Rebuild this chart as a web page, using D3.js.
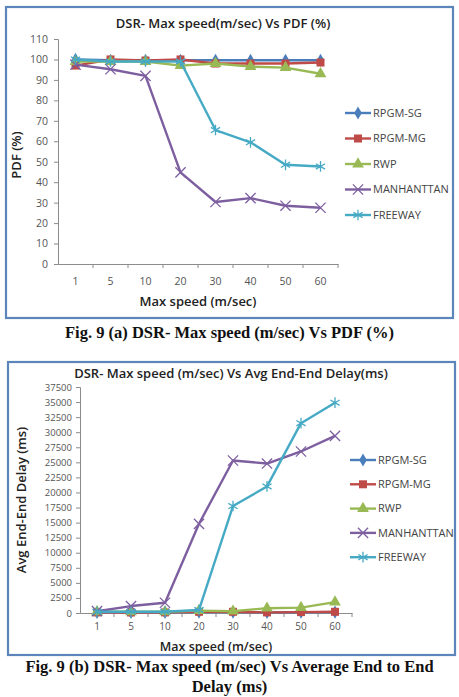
<!DOCTYPE html>
<html>
<head>
<meta charset="utf-8">
<script src="https://cdn.jsdelivr.net/npm/d3@7"></script>
<style>
  body { margin: 0; background: #fff; }
  svg { display: block; }
</style>
</head>
<body>
<div></div>
<script>
'use strict';

// categories
var speeds = ["1", "5", "10", "20", "30", "40", "50", "60"];
var seriesNames = ["RPGM-SG", "RPGM-MG", "RWP", "MANHANTTAN", "FREEWAY"];

// PDF (%) values
var pdfRpgmSg = [100, 99.6, 99.6, 99.6, 99.6, 99.6, 99.6, 99.6];
var pdfRpgmMg = [97, 100, 99.5, 100, 98, 98, 98, 98.5];
var pdfRwp = [99, 99, 99, 97, 98, 96.5, 96, 93];
var pdfManhattan = [97.5, 95.2, 92, 44.8, 30.3, 32.2, 28.5, 27.5];
var pdfFreeway = [100, 99, 99, 99, 65.5, 59.5, 48.5, 47.7];

// Avg end-end delay (ms) values
var delayRpgmSg = [100, 100, 100, 150, 150, 100, 120, 150];
var delayRpgmMg = [100, 80, 100, 200, 200, 100, 150, 200];
var delayRwp = [200, 200, 200, 400, 300, 800, 900, 1800];
var delayManhattan = [300, 1150, 1700, 14800, 25300, 24800, 26800, 29400];
var delayFreeway = [200, 200, 200, 500, 17750, 21000, 31500, 34900];

// tick labels
var pdfTicks = [0, 10, 20, 30, 40, 50, 60, 70, 80, 90, 100, 110];
var delayTicks = [0, 2500, 5000, 7500, 10000, 12500, 15000, 17500, 20000,
  22500, 25000, 27500, 30000, 32500, 35000, 37500];

var colors = ["#4a7ebb", "#be4b48", "#98b954", "#7d5fa0", "#46aac5"];
var symbols = [d3.symbolDiamond, d3.symbolSquare, d3.symbolTriangle, d3.symbolTimes, d3.symbolAsterisk];
var symbolSizes = [50, 64, 60, 70, 80];
var strokeSymbol = [false, false, false, true, true];

var svg = d3.select("body").select("div")
  .append("svg")
    .attr("width", 459)
    .attr("height", 697);

var chartFont = "'Open Sans', 'DejaVu Sans', sans-serif";
var captionFont = "'Liberation Serif', 'Times New Roman', serif";

function drawChart(cfg) {
  // frame
  svg.append("rect")
    .attr("x", cfg.box[0]).attr("y", cfg.box[1])
    .attr("width", cfg.box[2]).attr("height", cfg.box[3])
    .attr("fill", "#fff")
    .attr("stroke", "#5b85bb")
    .attr("stroke-width", 2.2);

  svg.append("text")
    .attr("x", cfg.titleX).attr("y", cfg.titleY)
    .attr("text-anchor", "middle")
    .attr("font-family", chartFont)
    .attr("font-size", 13)
    .attr("font-weight", 600)
    .attr("fill", "#222")
    .text(cfg.title);

  var xScale = d3.scaleBand()
    .domain(speeds)
    .range([cfg.left, cfg.right]);

  var yScale = d3.scaleLinear()
    .domain([cfg.ticks[0], cfg.ticks[cfg.ticks.length - 1]])
    .range([cfg.bottom, cfg.top]);

  // y axis
  var yAxis = svg.append("g")
    .attr("transform", "translate(" + cfg.left + ",0)")
    .call(d3.axisLeft(yScale).tickValues(cfg.ticks).tickFormat(d3.format("d"))
      .tickSize(4).tickPadding(cfg.yPad));
  yAxis.select(".domain").attr("stroke", "#8c8c8c");
  yAxis.selectAll(".tick line").attr("stroke", "#8c8c8c");
  yAxis.selectAll("text")
    .attr("font-family", chartFont)
    .attr("font-size", cfg.yFont)
    .attr("fill", "#555");

  // x axis
  var xAxis = svg.append("g")
    .attr("transform", "translate(0," + cfg.bottom + ")")
    .call(d3.axisBottom(xScale).tickSize(0).tickPadding(cfg.xPad).tickSizeOuter(0));
  xAxis.select(".domain").attr("stroke", "#8c8c8c");
  xAxis.selectAll("text")
    .attr("font-family", chartFont)
    .attr("font-size", cfg.xFont)
    .attr("fill", "#555");
  xAxis.selectAll(".bound")
    .data(speeds)
    .enter().append("line")
    .attr("x1", function(d) { return xScale(d) + xScale.bandwidth(); })
    .attr("x2", function(d) { return xScale(d) + xScale.bandwidth(); })
    .attr("y1", 0).attr("y2", 4)
    .attr("stroke", "#8c8c8c");

  svg.append("text")
    .attr("x", (cfg.left + cfg.right) / 2)
    .attr("y", cfg.xTitleY)
    .attr("text-anchor", "middle")
    .attr("font-family", chartFont)
    .attr("font-size", cfg.xTitleFont)
    .attr("font-weight", 600)
    .attr("fill", "#222")
    .text("Max speed (m/sec)");

  svg.append("text")
    .attr("transform", "translate(" + cfg.yTitleX + "," + cfg.yTitleY + ") rotate(-90)")
    .attr("text-anchor", "middle")
    .attr("font-family", chartFont)
    .attr("font-size", 13)
    .attr("font-weight", 600)
    .attr("fill", "#222")
    .text(cfg.yTitle);

  var line = d3.line()
    .x(function(d, i) { return xScale(speeds[i]) + xScale.bandwidth() / 2; })
    .y(function(d) { return yScale(d); });

  cfg.series.forEach(function(values, s) {
    svg.append("path")
      .datum(values)
      .attr("fill", "none")
      .attr("stroke", colors[s])
      .attr("stroke-width", 2.4)
      .attr("stroke-linejoin", "round")
      .attr("d", line);

    svg.selectAll(null)
      .data(values)
      .enter().append("path")
      .attr("transform", function(d, i) {
        return "translate(" + (xScale(speeds[i]) + xScale.bandwidth() / 2) + "," + yScale(d) + ")";
      })
      .attr("d", d3.symbol().type(symbols[s]).size(symbolSizes[s]))
      .attr("fill", strokeSymbol[s] ? "none" : colors[s])
      .attr("stroke", strokeSymbol[s] ? colors[s] : "none")
      .attr("stroke-width", 1.3);
  });

  // legend
  var legend = svg.append("g");
  seriesNames.forEach(function(name, s) {
    var y = cfg.legendY + s * cfg.legendStep;
    legend.append("line")
      .attr("x1", cfg.legendX).attr("x2", cfg.legendX + 26)
      .attr("y1", y).attr("y2", y)
      .attr("stroke", colors[s])
      .attr("stroke-width", 2.4);
    legend.append("path")
      .attr("transform", "translate(" + (cfg.legendX + 13) + "," + y + ")")
      .attr("d", d3.symbol().type(symbols[s]).size(symbolSizes[s]))
      .attr("fill", strokeSymbol[s] ? "none" : colors[s])
      .attr("stroke", strokeSymbol[s] ? colors[s] : "none")
      .attr("stroke-width", 1.3);
    legend.append("text")
      .attr("x", cfg.legendX + 28)
      .attr("y", y)
      .attr("dy", "0.35em")
      .attr("font-family", chartFont)
      .attr("font-size", 11)
      .attr("fill", "#444")
      .text(name);
  });

  cfg.caption.forEach(function(txt, i) {
    svg.append("text")
      .attr("x", 229.5)
      .attr("y", cfg.captionY + i * 20)
      .attr("text-anchor", "middle")
      .attr("font-family", captionFont)
      .attr("font-size", 16.5)
      .attr("font-weight", "bold")
      .attr("fill", "#111")
      .text(txt);
  });
}

drawChart({
  box: [6, 7, 447, 311],
  title: "DSR- Max speed(m/sec) Vs PDF (%)",
  titleX: 223, titleY: 28,
  left: 58, right: 338, top: 39, bottom: 264,
  ticks: pdfTicks, yPad: 6, yFont: 10.5, xPad: 14, xFont: 10.5,
  xTitleY: 306, xTitleFont: 13,
  yTitle: "PDF (%)", yTitleX: 21, yTitleY: 155,
  series: [pdfRpgmSg, pdfRpgmMg, pdfRwp, pdfManhattan, pdfFreeway],
  legendX: 345, legendY: 113, legendStep: 25.5,
  caption: ["Fig. 9 (a) DSR- Max speed (m/sec) Vs PDF (%)"],
  captionY: 338
});

drawChart({
  box: [8, 362, 447, 293],
  title: "DSR- Max speed (m/sec) Vs Avg End-End Delay(ms)",
  titleX: 231, titleY: 378,
  left: 80, right: 352, top: 387, bottom: 613,
  ticks: delayTicks, yPad: 4, yFont: 9.5, xPad: 10, xFont: 10,
  xTitleY: 651, xTitleFont: 12.5,
  yTitle: "Avg End-End Delay (ms)", yTitleX: 26, yTitleY: 500,
  series: [delayRpgmSg, delayRpgmMg, delayRwp, delayManhattan, delayFreeway],
  legendX: 350, legendY: 460, legendStep: 24.3,
  caption: ["Fig. 9 (b) DSR- Max speed (m/sec) Vs Average End to End", "Delay (ms)"],
  captionY: 672
});
</script>
</body>
</html>
